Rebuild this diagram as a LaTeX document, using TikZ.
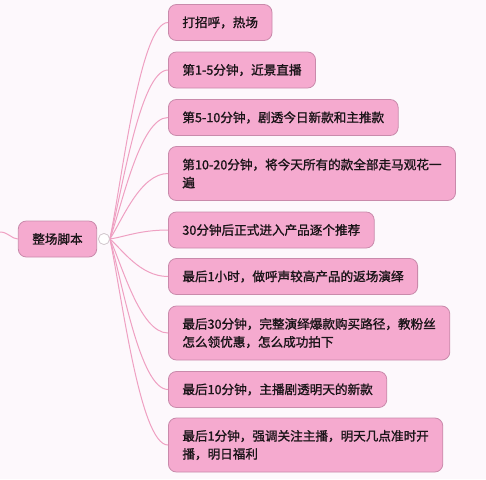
\documentclass[tikz,border=0pt]{standalone}
\usepackage{fontspec}
\newfontfamily\cjk{Noto Sans CJK SC}[FakeBold=1.3]
\definecolor{bgc}{HTML}{FDF8FC}
\definecolor{boxfill}{HTML}{F5AACF}
\definecolor{boxline}{HTML}{C98AAB}
\definecolor{linkc}{HTML}{EFA0C2}
\definecolor{textc}{HTML}{1A1418}
\definecolor{hubline}{HTML}{D2C8CE}
\begin{document}
\begin{tikzpicture}[x=1pt,y=-1pt,
  topic/.style={draw=boxline, fill=boxfill, rounded corners=8pt, line width=0.8pt,
    inner xsep=14pt, inner ysep=0pt, align=left, text=textc,
    font=\cjk\fontsize{12.6}{18}\selectfont},
  one/.style={minimum height=36pt},
  two/.style={minimum height=54pt},
  sub/.style={topic, anchor=west},
  link/.style={draw=linkc, line width=1pt},
  hubstyle/.style={circle, draw=hubline, fill=white, line width=0.7pt, minimum size=11pt, inner sep=0pt}]
\fill[bgc] (0,0) rectangle (486,479);
\useasboundingbox (0,0) rectangle (486,479);

\node[topic, one] (root) at (57.5,239) {整场脚本};
\node[hubstyle] (hub) at (104,239) {};
\coordinate (parent) at (0,232);

\node[sub, one] (b1) at (168,22.5) {打招呼，热场};
\node[sub, one] (b2) at (168,70) {第1-5分钟，近景直播};
\node[sub, one] (b3) at (168,117.5) {第5-10分钟，剧透今日新款和主推款};
\node[sub, two] (b4) at (168,173.5) {第10-20分钟，将今天所有的款全部走马观花一\\遍};
\node[sub, one] (b5) at (168,230) {30分钟后正式进入产品逐个推荐};
\node[sub, one] (b6) at (168,276.5) {最后1小时，做呼声较高产品的返场演绎};
\node[sub, two] (b7) at (168,333) {最后30分钟，完整演绎爆款购买路径，教粉丝\\怎么领优惠，怎么成功拍下};
\node[sub, one] (b8) at (168,389.5) {最后10分钟，主播剧透明天的新款};
\node[sub, two] (b9) at (168,445) {最后1分钟，强调关注主播，明天几点准时开\\播，明日福利};

\draw[link] (parent) .. controls +(8,0) and +(-6,0) .. (root.west);
\draw[link] (hub.east) .. controls +(12,-58) and +(-28,0) .. (b1.west);
\draw[link] (hub.east) .. controls +(12,-46) and +(-28,0) .. (b2.west);
\draw[link] (hub.east) .. controls +(12,-33) and +(-28,0) .. (b3.west);
\draw[link] (hub.east) .. controls +(12,-18) and +(-28,0) .. (b4.west);
\draw[link] (hub.east) .. controls +(14,-2) and +(-28,0) .. (b5.west);
\draw[link] (hub.east) .. controls +(12,10) and +(-28,0) .. (b6.west);
\draw[link] (hub.east) .. controls +(12,25) and +(-28,0) .. (b7.west);
\draw[link] (hub.east) .. controls +(12,41) and +(-28,0) .. (b8.west);
\draw[link] (hub.east) .. controls +(12,56) and +(-28,0) .. (b9.west);
\node[hubstyle] at (hub) {};
\end{tikzpicture}
\end{document}
